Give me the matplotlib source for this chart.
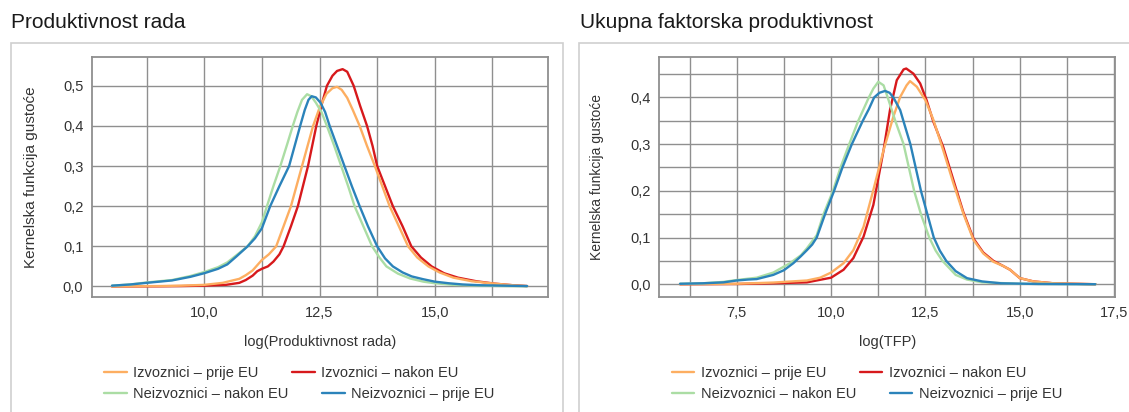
import matplotlib
matplotlib.use("Agg")
import matplotlib.pyplot as plt
from matplotlib.patches import Rectangle

plt.rcParams['font.family'] = ['Liberation Sans', 'DejaVu Sans']

# series names and colours
labels = ['Izvoznici – prije EU', 'Izvoznici – nakon EU',
          'Neizvoznici – nakon EU', 'Neizvoznici – prije EU']
colors = ['#fdae61', '#d7191c', '#abdda4', '#2b83ba']
draw_order = [1, 0, 2, 3]  # red under orange, blue on top

# --- left panel: log(Produktivnost rada) ---
lp_exp_before_x = [8.0, 9.0, 9.5, 10.0, 10.4, 10.76, 10.9, 11.05, 11.25, 11.4, 11.56, 11.72, 11.88, 12.0,
                   12.12, 12.24, 12.36, 12.5, 12.65, 12.78, 12.88, 12.98, 13.1, 13.22, 13.37, 13.53, 13.7,
                   13.86, 14.02, 14.22, 14.42, 14.62, 14.86, 15.1, 15.4, 15.8, 16.3, 16.7, 17.0]
lp_exp_before_y = [0.0, 0.001, 0.002, 0.004, 0.009, 0.019, 0.028, 0.04, 0.066, 0.08, 0.10, 0.15, 0.20, 0.25,
                   0.30, 0.35, 0.40, 0.445, 0.48, 0.494, 0.4975, 0.49, 0.47, 0.44, 0.40, 0.35, 0.30,
                   0.25, 0.20, 0.15, 0.10, 0.072, 0.05, 0.035, 0.022, 0.013, 0.007, 0.003, 0.001]
lp_exp_after_x = [8.0, 9.0, 9.5, 10.0, 10.47, 10.76, 10.9, 11.05, 11.15, 11.25, 11.38, 11.5, 11.63, 11.72,
                  11.88, 12.03, 12.14, 12.25, 12.34, 12.43, 12.55, 12.66, 12.78, 12.88, 13.0, 13.1, 13.24,
                  13.38, 13.53, 13.65, 13.75, 13.92, 14.09, 14.3, 14.49, 14.7, 14.93, 15.2, 15.5, 15.9,
                  16.3, 16.7, 17.0]
lp_exp_after_y = [0.0, 0.0005, 0.001, 0.002, 0.004, 0.009, 0.016, 0.027, 0.038, 0.044, 0.05, 0.062, 0.08, 0.10,
                  0.15, 0.20, 0.25, 0.30, 0.35, 0.40, 0.455, 0.50, 0.525, 0.537, 0.5415, 0.535, 0.50,
                  0.45, 0.40, 0.35, 0.30, 0.25, 0.20, 0.15, 0.10, 0.072, 0.05, 0.033, 0.022, 0.013,
                  0.007, 0.003, 0.001]
lp_non_after_x = [8.0, 8.4, 8.75, 9.3, 9.7, 10.0, 10.3, 10.5, 10.7, 10.94, 11.1, 11.25, 11.36, 11.5, 11.65,
                  11.8, 11.92, 12.02, 12.12, 12.23, 12.32, 12.42, 12.54, 12.66, 12.82, 12.97, 13.12, 13.26,
                  13.45, 13.64, 13.8, 13.95, 14.2, 14.46, 14.75, 15.0, 15.4, 16.0, 16.5, 17.0]
lp_non_after_y = [0.002, 0.005, 0.01, 0.016, 0.026, 0.036, 0.048, 0.06, 0.078, 0.10, 0.125, 0.16, 0.20, 0.25,
                  0.30, 0.355, 0.40, 0.435, 0.465, 0.479, 0.474, 0.458, 0.435, 0.40, 0.35, 0.30, 0.25,
                  0.20, 0.15, 0.10, 0.072, 0.05, 0.032, 0.02, 0.012, 0.008, 0.004, 0.002, 0.001, 0.0005]
lp_non_before_x = [8.0, 8.4, 8.75, 9.3, 9.7, 10.0, 10.3, 10.5, 10.7, 10.94, 11.1, 11.25, 11.43, 11.63, 11.84,
                   11.96, 12.08, 12.18, 12.26, 12.33, 12.42, 12.52, 12.62, 12.72, 12.88, 13.04, 13.2, 13.37,
                   13.55, 13.75, 13.92, 14.09, 14.3, 14.5, 14.75, 15.0, 15.3, 15.6, 16.0, 16.5, 17.0]
lp_non_before_y = [0.002, 0.005, 0.009, 0.015, 0.024, 0.033, 0.044, 0.055, 0.075, 0.10, 0.12, 0.145, 0.20,
                   0.25, 0.30, 0.35, 0.40, 0.44, 0.465, 0.474, 0.471, 0.458, 0.435, 0.40, 0.35, 0.30, 0.25,
                   0.20, 0.15, 0.10, 0.07, 0.05, 0.035, 0.025, 0.018, 0.012, 0.008, 0.005, 0.003, 0.002,
                   0.001]

# --- right panel: log(TFP) ---
rp_exp_before_x = [6.0, 7.5, 8.47, 9.36, 9.71, 10.0, 10.33, 10.59, 10.86, 11.12, 11.39, 11.65, 11.83, 12.0,
                   12.09, 12.27, 12.5, 12.71, 12.97, 13.24, 13.5, 13.77, 14.03, 14.3, 14.56, 14.74, 15.0,
                   15.36, 15.89, 17.0]
rp_exp_before_y = [0.0, 0.001, 0.0036, 0.008, 0.014, 0.025, 0.045, 0.073, 0.123, 0.202, 0.287, 0.359, 0.401,
                   0.426, 0.435, 0.423, 0.394, 0.352, 0.287, 0.216, 0.152, 0.095, 0.066, 0.048, 0.039,
                   0.031, 0.013, 0.006, 0.002, 0.0]
rp_exp_after_x = [6.0, 7.5, 8.47, 9.36, 10.0, 10.33, 10.59, 10.86, 11.12, 11.39, 11.56, 11.74, 11.92, 11.99,
                  12.18, 12.36, 12.53, 12.71, 12.97, 13.24, 13.5, 13.77, 14.03, 14.3, 14.56, 14.74, 15.0,
                  15.36, 15.89, 17.0]
rp_exp_after_y = [0.0, 0.0005, 0.002, 0.004, 0.014, 0.031, 0.056, 0.102, 0.17, 0.287, 0.373, 0.437, 0.46,
                  0.462, 0.451, 0.43, 0.394, 0.348, 0.294, 0.223, 0.155, 0.098, 0.068, 0.05, 0.039,
                  0.031, 0.013, 0.006, 0.002, 0.0]
rp_non_after_x = [6.0, 6.6, 7.15, 7.5, 8.03, 8.47, 8.91, 9.2, 9.36, 9.62, 9.8, 10.05, 10.25, 10.48, 10.72,
                  10.86, 11.0, 11.12, 11.25, 11.39, 11.5, 11.6, 11.7, 11.81, 11.92, 12.06, 12.2, 12.38,
                  12.6, 12.77, 12.95, 13.3, 13.6, 14.0, 15.0, 17.0]
rp_non_after_y = [0.001, 0.002, 0.005, 0.009, 0.014, 0.025, 0.045, 0.062, 0.077, 0.105, 0.15, 0.20, 0.25,
                  0.30, 0.35, 0.375, 0.40, 0.419, 0.4335, 0.426, 0.40, 0.375, 0.35, 0.325, 0.30, 0.25,
                  0.20, 0.15, 0.10, 0.072, 0.05, 0.02, 0.01, 0.004, 0.001, 0.0]
rp_non_before_x = [6.0, 6.6, 7.15, 7.5, 7.8, 8.03, 8.47, 8.75, 9.0, 9.2, 9.36, 9.5, 9.62, 9.84, 10.08, 10.3,
                   10.55, 10.84, 11.0, 11.14, 11.28, 11.43, 11.55, 11.65, 11.83, 11.97, 12.1, 12.24, 12.38,
                   12.55, 12.72, 12.88, 13.05, 13.3, 13.6, 14.0, 14.5, 15.5, 17.0]
rp_non_before_y = [0.001, 0.002, 0.004, 0.008, 0.01, 0.011, 0.02, 0.03, 0.045, 0.06, 0.073, 0.085, 0.10,
                   0.15, 0.20, 0.25, 0.30, 0.35, 0.375, 0.40, 0.41, 0.414, 0.41, 0.40, 0.373, 0.335, 0.30,
                   0.25, 0.20, 0.15, 0.10, 0.072, 0.05, 0.028, 0.013, 0.006, 0.002, 0.0005, 0.0]

lp_xticks = [10.0, 12.5, 15.0]
lp_xtick_labels = ['10,0', '12,5', '15,0']
lp_yticks = [0.0, 0.1, 0.2, 0.3, 0.4, 0.5]
lp_ytick_labels = ['0,0', '0,1', '0,2', '0,3', '0,4', '0,5']
rp_xticks = [7.5, 10.0, 12.5, 15.0, 17.5]
rp_xtick_labels = ['7,5', '10,0', '12,5', '15,0', '17,5']
rp_yticks = [0.0, 0.1, 0.2, 0.3, 0.4]
rp_ytick_labels = ['0,0', '0,1', '0,2', '0,3', '0,4']

W, H = 1129, 412
fig = plt.figure(figsize=(W / 100, H / 100), dpi=100)
grid_c = '#8f8f8f'
text_c = '#333333'


def px_box(x0, y0, x1, y1):
    # pixel box (top-left origin) -> figure fractions
    return [x0 / W, 1 - y1 / H, (x1 - x0) / W, (y1 - y0) / H]


def style_axis(ax, xlim, ylim, xt, xtl, xminor, yt, ytl, yminor, xlabel, ylab_size, ylab_x):
    ax.set_xlim(*xlim)
    ax.set_ylim(*ylim)
    ax.set_xticks(xt, xtl)
    ax.set_xticks(xminor, minor=True)
    ax.set_yticks(yt, ytl)
    ax.set_yticks(yminor, minor=True)
    ax.grid(True, which='both', color=grid_c, linewidth=1.0)
    ax.set_axisbelow(True)
    ax.tick_params(which='both', length=0, labelsize=10.5, colors=text_c)
    ax.tick_params(axis='x', pad=6.5)
    ax.tick_params(axis='y', pad=6)
    for s in ax.spines.values():
        s.set_color(grid_c)
        s.set_linewidth(1.3)
    ax.set_xlabel(xlabel, fontsize=10.5, color=text_c, labelpad=10.5)
    ax.set_ylabel('Kernelska funkcija gustoće', fontsize=ylab_size, color=text_c)
    ax.yaxis.set_label_coords(ylab_x, 0.5)


def draw_series(ax, series):
    lines = [None] * len(series)
    for i in draw_order:
        xs, ys = series[i]
        lines[i], = ax.plot(xs, ys, color=colors[i], linewidth=1.7, label=labels[i],
                            solid_capstyle='round')
    return lines


ax1 = fig.add_axes(px_box(91.7, 57.3, 548.3, 297.3))
lines_l = draw_series(ax1, [(lp_exp_before_x, lp_exp_before_y), (lp_exp_after_x, lp_exp_after_y),
                            (lp_non_after_x, lp_non_after_y), (lp_non_before_x, lp_non_before_y)])
style_axis(ax1, (7.56, 17.46), (-0.027, 0.571), lp_xticks, lp_xtick_labels,
           [8.75, 11.25, 13.75, 16.25], lp_yticks, lp_ytick_labels, [],
           'log(Produktivnost rada)', 11, -0.117)

ax2 = fig.add_axes(px_box(659.3, 57.3, 1115, 297.3))
lines_r = draw_series(ax2, [(rp_exp_before_x, rp_exp_before_y), (rp_exp_after_x, rp_exp_after_y),
                            (rp_non_after_x, rp_non_after_y), (rp_non_before_x, rp_non_before_y)])
style_axis(ax2, (5.45, 17.52), (-0.028, 0.486), rp_xticks, rp_xtick_labels,
           [6.25, 8.75, 11.25, 13.75, 16.25], rp_yticks, rp_ytick_labels,
           [0.05, 0.15, 0.25, 0.35, 0.45], 'log(TFP)', 10, -0.121)

# legends: two rows per panel
leg_kw = dict(ncol=2, frameon=False, borderpad=0, borderaxespad=0, handlelength=1.55,
              handletextpad=0.45, columnspacing=2.3, fontsize=10.5, labelcolor=text_c)
for lines, x0 in [(lines_l, 104), (lines_r, 671.7)]:
    fig.legend(lines[:2], labels[:2], loc='center left',
               bbox_to_anchor=(x0 / W, 1 - 373.3 / H), **leg_kw)
    fig.legend(lines[2:], labels[2:], loc='center left',
               bbox_to_anchor=(x0 / W, 1 - 394.3 / H), **leg_kw)

# titles and panel boxes
fig.text(11 / W, 1 - 28 / H, 'Produktivnost rada', fontsize=15, color='#1a1a1a', va='baseline')
fig.text(580 / W, 1 - 28 / H, 'Ukupna faktorska produktivnost', fontsize=15, color='#1a1a1a', va='baseline')
fig.patches.append(Rectangle((10.5 / W, -0.05), (562.7 - 10.5) / W, 1.05 - 43 / H,
                             transform=fig.transFigure, fill=False, edgecolor='#cfcfcf', linewidth=1.2))
fig.patches.append(Rectangle((578.5 / W, -0.05), 0.6, 1.05 - 43 / H,
                             transform=fig.transFigure, fill=False, edgecolor='#cfcfcf', linewidth=1.2))

fig.savefig('out.png', dpi=100)
